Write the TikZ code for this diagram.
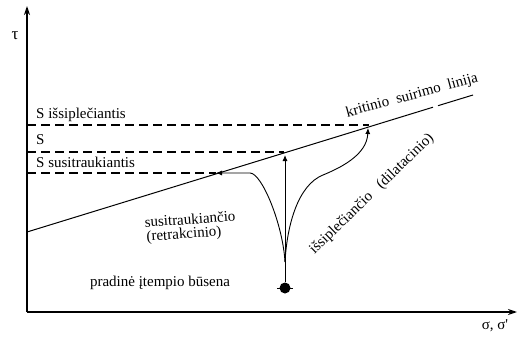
\documentclass[tikz,border=0pt]{standalone}
\usepackage{fontspec}
\setmainfont{Liberation Serif}
\usetikzlibrary{arrows.meta}
\begin{document}
\begin{tikzpicture}[x=1pt,y=-1pt,
  axis/.style={line width=1.8pt,-{Stealth[length=9pt,width=6pt]}},
  limit/.style={line width=1.1pt,dash pattern=on 9pt off 5pt},
  crit/.style={line width=1pt},
  path arrow/.style={line width=0.9pt,-{Latex[length=6pt,width=5pt]}},
  lbl/.style={font=\fontsize{15}{17}\selectfont,inner sep=0pt}]
\useasboundingbox (0,0) rectangle (517,337);

% axes
\coordinate (O) at (27,312);
\coordinate (ytop) at (27,6);
\coordinate (xend) at (517,312);
\draw[axis] (O) -- (ytop);
\draw[axis] (O) -- (xend);
\node[lbl,font=\fontsize{17}{19}\selectfont] (tau) at (15,36) {τ};
\node[lbl,font=\fontsize{15}{17}\selectfont] (sig) at (495,326) {σ, σ\textquotesingle};

% critical state line
\coordinate (c0) at (27,232);
\coordinate (c1) at (433,107.2);
\coordinate (c2) at (438,105.7);
\coordinate (c3) at (473,95);
\draw[crit] (c0) -- (c1);
\draw[crit] (c2) -- (c3);
\node[lbl,rotate=15] (critlbl) at (412,96) {kritinio\ \ suirimo\ \ linija};

% stress levels
\coordinate (sd0) at (27,125);  \coordinate (sd1) at (369,125);
\coordinate (s0)  at (27,152);  \coordinate (s1)  at (284,152);
\coordinate (sc0) at (27,173);  \coordinate (sc1) at (216,173);
\draw[limit] (sd0) -- (sd1);
\draw[limit] (s0) -- (s1);
\draw[limit] (sc0) -- (sc1);
\node[lbl,anchor=west] (lsd) at (36,115) {S išsiplečiantis};
\node[lbl,anchor=west] (ls)  at (36,140) {S};
\node[lbl,anchor=west] (lsc) at (36,162) {S susitraukiantis};

% initial state and stress paths
\coordinate (cusp) at (285,262);
\node[circle,fill=black,minimum size=11pt,inner sep=0pt] (init) at (285,288) {};
\draw[line width=0.9pt] (277,288) -- (293,288);
\draw[path arrow] (init.north) -- (285,155);
\draw[path arrow] (cusp) .. controls (283,225) and (262,173) .. (250,173) -- (sc1);
\draw[path arrow] (cusp) .. controls (287,225) and (298,185) .. (323,175)
                          .. controls (340,168) and (367,155) .. (368,128);

\node[lbl,rotate=4] (retr1) at (190,219) {susitraukiančio};
\node[lbl,rotate=4] (retr2) at (184,235) {(retrakcinio)};
\node[lbl,rotate=44] (dil) at (372,194) {išsiplečiančio\ \ \ (dilatacinio)};
\node[lbl] (init lbl) at (160,283) {pradinė įtempio būsena};
\end{tikzpicture}
\end{document}
